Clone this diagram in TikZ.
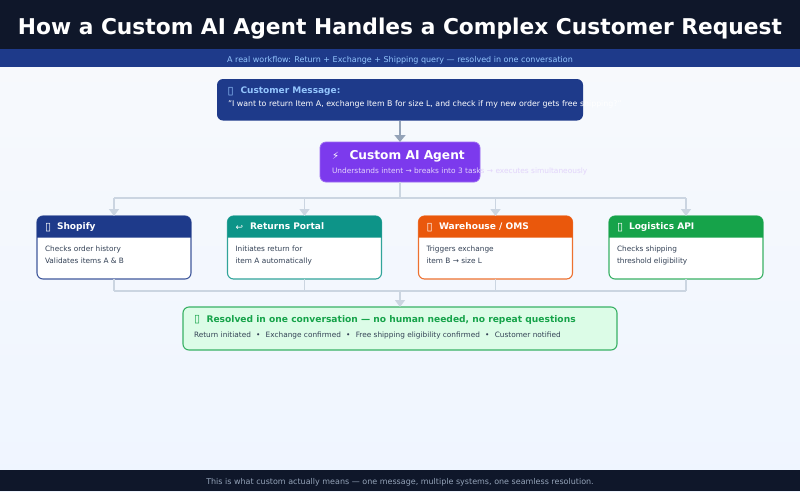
\documentclass[tikz,border=0pt]{standalone}
\usepackage{fontspec}
\setmainfont{DejaVu Sans}
\usetikzlibrary{arrows.meta,calc}
\definecolor{navy}{HTML}{0F172A}
\definecolor{royal}{HTML}{1E3A8A}
\definecolor{teal}{HTML}{0D9488}
\definecolor{orng}{HTML}{EA580C}
\definecolor{grn}{HTML}{16A34A}
\definecolor{violet}{HTML}{7C3AED}
\definecolor{linklt}{HTML}{CBD5E1}
\definecolor{linkdk}{HTML}{94A3B8}
\definecolor{bodytxt}{HTML}{334155}
\definecolor{skyblue}{HTML}{93C5FD}
\definecolor{mint}{HTML}{DCFCE7}
\definecolor{bgtop}{HTML}{F8FAFC}
\definecolor{bgbot}{HTML}{EFF5FF}
\tikzset{
  x=1pt,y=-1pt,
  band/.style={draw=none,minimum width=800pt,outer sep=0pt,inner sep=0pt},
  box/.style={rounded corners=6pt,outer sep=0pt,inner sep=0pt},
  txt/.style={anchor=base west,inner sep=0pt,outer sep=0pt},
  ctr/.style={anchor=base,inner sep=0pt,outer sep=0pt},
  flow/.style={draw=linklt,line width=1.4pt},
  flowtip/.style={flow,-{Triangle[width=10pt,length=7pt]}},
  cardtitle/.style={txt,text=white,font=\fontsize{9.05}{11}\selectfont\bfseries},
  cardtext/.style={txt,text=bodytxt,font=\fontsize{7.35}{9}\selectfont},
}
\newcommand{\cardbox}[9]{%
  % #1 name, #2 left, #3 colour, #4 icon, #5 title, #6 line1, #7 line2, #8 icon size, #9 title offset
  \node[box,draw=#3!85!white,fill=white,line width=1.1pt,minimum width=154pt,minimum height=63pt,anchor=north west] (#1) at (#2,216) {};
  \fill[#3] ($(#1.north west)+(0,21.7)$) [rounded corners=6pt] -- (#1.north west) -- (#1.north east) [sharp corners] -- ($(#1.north east)+(0,21.7)$) -- cycle;
  \node[cardtitle,font=\fontsize{#8}{11}\selectfont] (#1i) at (#2+8,230) {#4};
  \node[cardtitle] (#1t) at (#2+#9,229.7) {#5};
  \node[cardtext] (#1a) at (#2+8,251) {#6};
  \node[cardtext] (#1b) at (#2+8,263.8) {#7};
}
\begin{document}
\begin{tikzpicture}
\useasboundingbox (0,0) rectangle (800,491);
\shade[top color=bgtop,bottom color=bgbot] (0,0) rectangle (800,491);
% bands
\node[band,fill=navy,minimum height=49pt,anchor=north west] (hdr) at (0,0) {};
\node[band,fill=royal,minimum height=18pt,anchor=north west] (sub) at (0,49) {};
\node[band,fill=navy,minimum height=21.5pt,anchor=north west] (ftr) at (0,469.5) {};
\node[ctr,text=white,font=\fontsize{21.75}{26}\selectfont\bfseries] (title) at (400,34) {How a Custom AI Agent Handles a Complex Customer Request};
\node[ctr,text=skyblue,font=\fontsize{8}{10}\selectfont] (subt) at (400,62) {A real workflow: Return + Exchange + Shipping query — resolved in one conversation};
\node[ctr,text=linkdk,font=\fontsize{8}{10}\selectfont] (ftrt) at (400,484) {This is what custom actually means — one message, multiple systems, one seamless resolution.};
% main boxes
\node[box,fill=royal,minimum width=366pt,minimum height=41.5pt,anchor=north west] (cust) at (217,79) {};
\node[txt,text=skyblue,font=\fontsize{11}{13}\selectfont] (custi) at (227.5,94) {▯};
\node[txt,text=skyblue,font=\fontsize{9}{11}\selectfont\bfseries] (custt) at (240.5,93.7) {Customer Message:};
\node[txt,text=white,font=\fontsize{7.85}{9}\selectfont] (custm) at (228,106) {"I want to return Item A, exchange Item B for size L, and check if my new order gets free shipping?"};
\node[box,fill=violet,draw=violet!75!white,line width=.8pt,minimum width=160pt,minimum height=40pt,anchor=north west] (agent) at (320,142) {};
\node[txt,text=white,font=\fontsize{10}{12}\selectfont\bfseries] (agenti) at (332,159) {⚡};
\node[txt,text=white,font=\fontsize{12.2}{14}\selectfont\bfseries] (agentt) at (349.5,159.3) {Custom AI Agent};
\node[txt,text=violet!22!white,font=\fontsize{7.42}{9}\selectfont] (agents) at (332,173) {Understands intent → breaks into 3 tasks → executes simultaneously};
% cards
\cardbox{shop}{37}{royal}{▯}{Shopify}{Checks order history}{Validates items A \& B}{11}{20}
\cardbox{ret}{227.5}{teal}{↩}{Returns Portal}{Initiates return for}{item A automatically}{9}{22.5}
\cardbox{wh}{418.5}{orng}{▯}{Warehouse / OMS}{Triggers exchange}{item B → size L}{11}{20.5}
\cardbox{log}{609}{grn}{▯}{Logistics API}{Checks shipping}{threshold eligibility}{11}{20}
% result
\node[box,fill=mint,draw=grn!85!white,line width=1.1pt,minimum width=434pt,minimum height=43pt,anchor=north west] (res) at (183,307) {};
\node[txt,text=grn,font=\fontsize{11}{13}\selectfont] (resi) at (194,322.5) {▯};
\node[txt,text=grn,font=\fontsize{9.12}{11}\selectfont\bfseries] (rest) at (206.5,322) {Resolved in one conversation — no human needed, no repeat questions};
\node[txt,text=bodytxt,font=\fontsize{7.35}{9}\selectfont] (resl) at (194,337.7) {Return initiated\hspace{5.2pt}•\hspace{5.2pt}Exchange confirmed\hspace{5.2pt}•\hspace{5.2pt}Free shipping eligibility confirmed\hspace{5.2pt}•\hspace{5.2pt}Customer notified};
% connectors
\draw[line width=2.2pt,draw=linkdk,-{Triangle[width=11pt,length=7pt]}] (cust.south) -- (agent.north);
\coordinate (topbus) at ($(agent.south)+(0,16)$);
\coordinate (botbus) at ($(res.north)+(0,-16)$);
\draw[flow] (agent.south) -- (topbus);
\draw[flow] (shop.north |- topbus) -- (log.north |- topbus);
\foreach \c in {shop,ret,wh,log}{
  \draw[flowtip] (\c.north |- topbus) -- (\c.north);
  \draw[flow] (\c.south) -- (\c.south |- botbus);
}
\draw[flow] (shop.south |- botbus) -- (log.south |- botbus);
\draw[flowtip] (botbus) -- (res.north);
\end{tikzpicture}
\end{document}
